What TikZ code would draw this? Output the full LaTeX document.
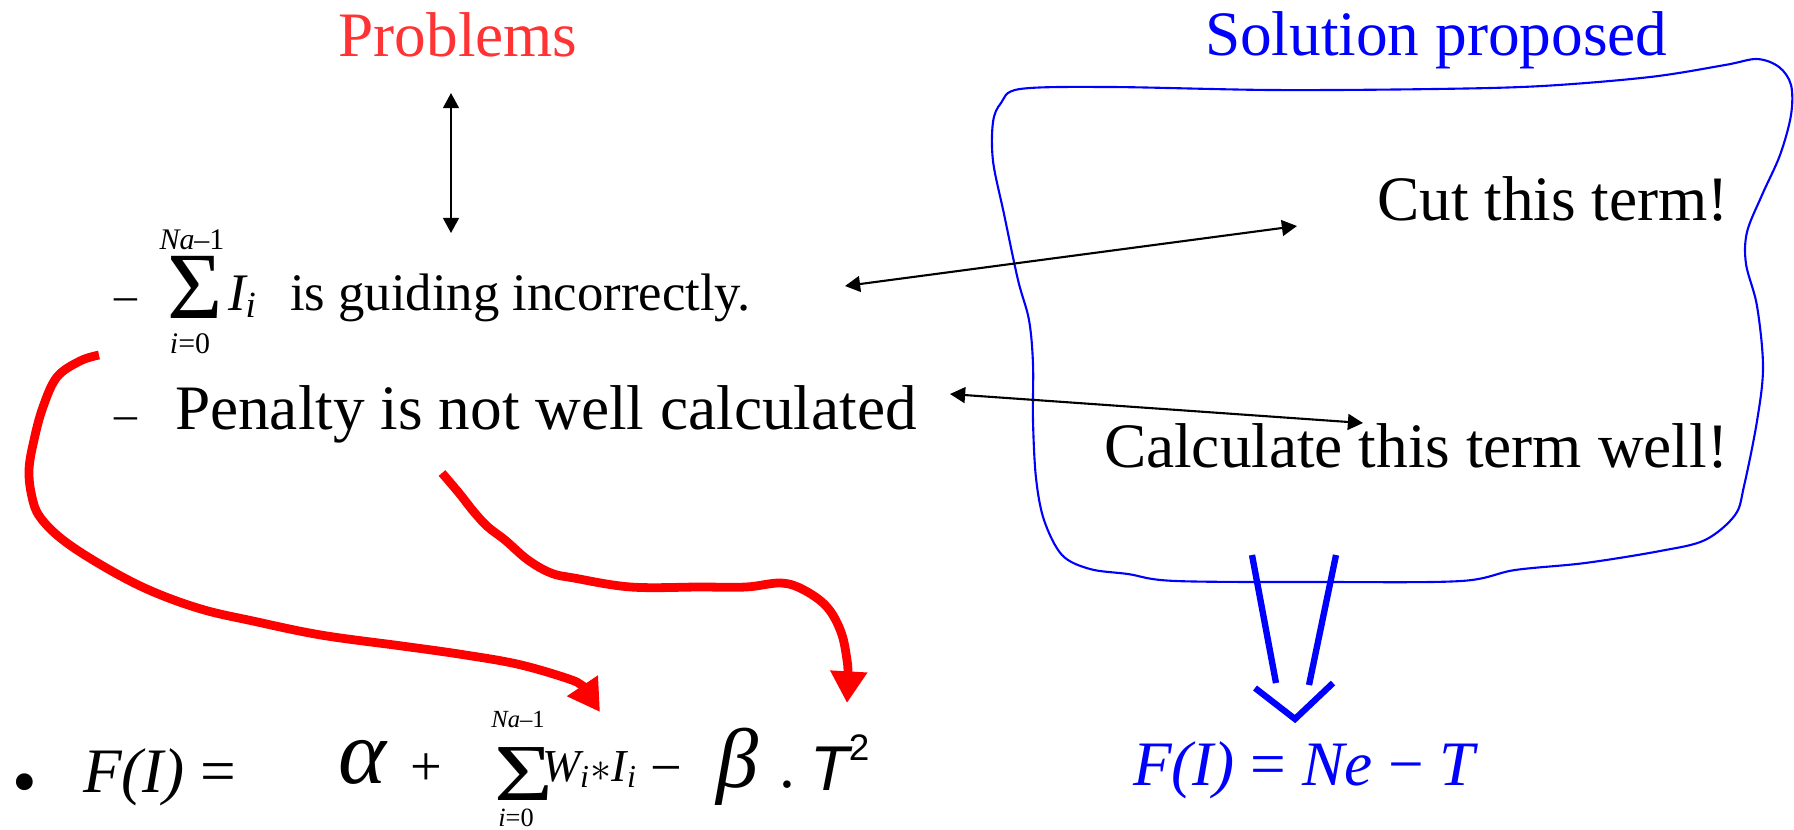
\documentclass[tikz,border=0pt]{standalone}
\usepackage{amsmath}
\usepackage{graphicx}
\usepackage{fontspec}
\setmainfont{Liberation Serif}
\newfontfamily\sansfam{Liberation Sans}
\usetikzlibrary{arrows.meta, positioning}
\definecolor{probred}{RGB}{255,51,51}

\begin{document}
\begin{tikzpicture}[
    x=0.01cm, y=-0.01cm,
    every node/.style={inner sep=0pt, outer sep=0pt},
    big/.style={font=\fontsize{18}{21}\selectfont},
    mid/.style={font=\fontsize{15}{18}\selectfont},
    small/.style={font=\fontsize{13}{15}\selectfont},
    limit/.style={font=\fontsize{8.5}{9}\selectfont},
    link/.style={{Triangle[length=4.3pt,width=4.5pt]}-{Triangle[length=4.3pt,width=4.5pt]}, line width=0.6pt},
    stroke/.style={draw=red, line width=2.5pt, -{Triangle[length=9pt,width=10pt]}},
    blob/.style={draw=blue, line width=0.6pt},
    implies/.style={draw=blue, line width=1.8pt}
]
\useasboundingbox (0,0) rectangle (1794,829);

% headings
\node[big, text=probred, anchor=base] (problems) at (458,56) {Problems};
\node[big, text=blue, anchor=base west] (solution) at (1205,55) {Solution proposed};

% problem list
\node[small, anchor=base west] (dashA) at (114,310) {–};
\node[font=\fontsize{27}{29}\selectfont, anchor=base west] (sigA) at (167,318) {Σ};
\node[limit, anchor=base] (topA) at (192,249) {\textit{Na}–1};
\node[limit, anchor=base] (botA) at (190,353) {\textit{i}=0};
\node[mid, anchor=base west] (termA) at (228,310) {$\textit{I}_{\textit{i}}$};
\node[mid, anchor=base west] (guide) at (290,310) {is guiding incorrectly.};
\node[small, anchor=base west] (dashB) at (114,429) {–};
\node[big, anchor=base west] (penalty) at (175,429) {Penalty is not well calculated};

% solution box
\draw[blob] plot[smooth cycle, tension=0.55] coordinates {
    (1020,89) (1111,87) (1273,90) (1434,89) (1542,86) (1650,77) (1725,65)
    (1757,59) (1779,67) (1791,85) (1791,115) (1780,155) (1762,195) (1747,232)
    (1746,264) (1757,306) (1763,367) (1757,421) (1744,486) (1735,515)
    (1705,540) (1660,551) (1585,563) (1515,570) (1461,581) (1327,582)
    (1176,581) (1128,574) (1090,569) (1062,555) (1044,520) (1036,478)
    (1033,421) (1033,364) (1029,320) (1018,280) (1004,214) (993,161)
    (993,122) (1001,103)};
\node[big, anchor=base east] (cut) at (1729,220) {Cut this term!};
\node[big, anchor=base east] (calc) at (1728,467) {Calculate this term well!};

% cost function
\node[font=\fontsize{20}{22}\selectfont] (bullet) at (25,790) {•};
\node[big, anchor=base west] (lhs) at (83,792) {\textit{F(I)} =};
\node[font=\fontsize{26}{28}\selectfont, anchor=base west] (alpha) at (338,783) {\textit{α}};
\node[font=\fontsize{16}{18}\selectfont, anchor=base west] (plus) at (410,785) {+};
\node[font=\fontsize{23}{25}\selectfont, anchor=base west] (sigB) at (494,800) {\scalebox{1.25}[1]{Σ}};
\node[font=\fontsize{7}{8}\selectfont, anchor=base] (topB) at (518,727) {\textit{Na}–1};
\node[font=\fontsize{7.5}{8}\selectfont, anchor=base] (botB) at (516,826) {\textit{i}=0};
\node[font=\fontsize{13}{15}\selectfont, anchor=base west] (termB) at (542,781)
    {$\textit{W}_{\textit{i}}{*}\textit{I}_{\textit{i}}$};
\node[font=\fontsize{16}{18}\selectfont, anchor=base west] (minus) at (650,786) {−};
\node[font=\fontsize{24}{26}\selectfont, anchor=base west] (beta) at (716,787)
    {\textit{β}{\fontsize{18}{20}\selectfont\hspace{6pt}.}};
\node[font=\fontsize{18}{20}\selectfont\sansfam, anchor=base west] (tsq) at (810,790)
    {\textit{T}\hspace{-1pt}{\fontsize{10.5}{11}\selectfont\raisebox{8.5pt}{2}}};

\node[big, text=blue, anchor=base west] (result) at (1133,785)
    {\textit{F(I)} = \textit{Ne} − \textit{T}};

% links
\coordinate (vtop) at (451,93);
\coordinate (vbot) at (451,233);
\coordinate (guideR) at (845,286);
\coordinate (cutL) at (1297,226);
\coordinate (penR) at (950,394);
\coordinate (calcL) at (1363,423);
\draw[link] (vtop) -- (vbot);
\draw[link] (guideR) -- (cutL);
\draw[link] (penR) -- (calcL);

% red strokes
\draw[stroke] plot[smooth, tension=0.6] coordinates {
    (99,355) (80,361) (57,377) (43,407) (34,440) (29,470) (32,497) (40,517)
    (63,540) (103,566) (149,590) (201,609) (253,621) (321,635) (402,646)
    (459,654) (517,664) (566,678) (583,686) (590,697) (600,712)};
\draw[stroke] plot[smooth, tension=0.6] coordinates {
    (442,473) (459,493) (474,512) (488,527) (505,540) (528,560) (551,573)
    (574,578) (631,587) (700,587) (746,587) (781,583) (804,590) (827,607)
    (841,632) (847,660) (848,678) (847,703)};

% implies
\draw[implies] (1252,555) -- (1276,683);
\draw[implies] (1336,555) -- (1309,685);
\draw[implies] (1255,688) -- (1295,719) -- (1333,683);

\end{tikzpicture}
\end{document}
